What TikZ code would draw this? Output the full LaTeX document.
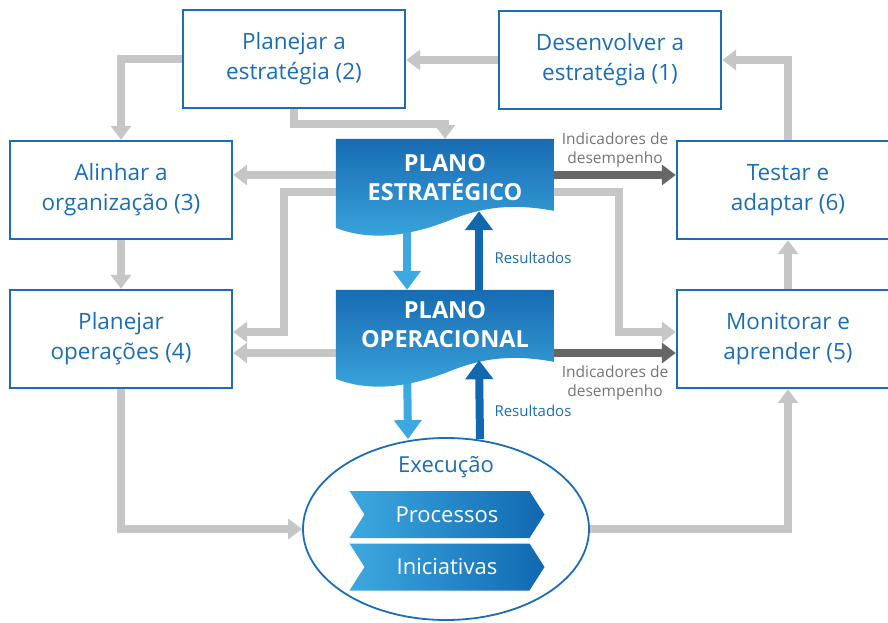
\documentclass[tikz,border=0pt]{standalone}
\usepackage{fontspec}
\setmainfont{Open Sans}
\usetikzlibrary{arrows.meta,shapes.geometric,shapes.symbols}

\definecolor{boxblue}{HTML}{1B6EB5}
\definecolor{lightgray}{HTML}{C6C6C6}
\definecolor{darkgray}{HTML}{666666}
\definecolor{ltblue}{HTML}{3CA9E0}
\definecolor{dkblue}{HTML}{1168B0}
\definecolor{planotop}{HTML}{176BB2}
\definecolor{planobot}{HTML}{3BA6DD}

% wavy plan shape drawn behind a plano node
\newcommand{\planoshape}[1]{%
  \shade[top color=planotop,bottom color=planobot,shift={(#1.north west)}]
    (0,0) -- (218,0) -- (218,72) .. controls (175,64) and (145,69) .. (115,81)
    .. controls (75,97) and (35,103) .. (0,89) -- cycle;}

\begin{document}
\begin{tikzpicture}[x=1pt,y=-1pt,
    box/.style={draw=boxblue,line width=2.4pt,text=boxblue,minimum width=222pt,minimum height=98pt,
      align=center,font=\fontsize{22.5}{30}\selectfont},
    plano/.style={minimum width=218pt,minimum height=72pt,inner sep=0pt,align=center,text=white,
      font=\bfseries\fontsize{23.5}{29}\selectfont},
    chev/.style={shape=signal,signal to=east,signal from=west,signal pointer angle=115,
      minimum width=195pt,minimum height=47pt,inner sep=0pt,left color=ltblue,right color=dkblue,
      text=white,font=\fontsize{22}{24}\selectfont},
    grayarrow/.style={draw=lightgray,line width=8pt,-{Triangle[width=20pt,length=14pt]}},
    darkarrow/.style={draw=darkgray,line width=8pt,-{Triangle[width=20pt,length=14pt]}},
    ltarrow/.style={draw=ltblue,line width=8pt,-{Triangle[width=27pt,length=19pt]}},
    dkarrow/.style={draw=dkblue,line width=8pt,-{Triangle[width=27pt,length=19pt]}},
    indic/.style={text=darkgray!90,align=center,font=\fontsize{15.5}{19}\selectfont},
    result/.style={text=boxblue,font=\fontsize{15}{18}\selectfont}]

\clip (0,0) rectangle (888,623);

\node[box] (p2) at (294,59) {Planejar a\\estratégia (2)};
\node[box] (d1) at (610,60) {Desenvolver a\\estratégia (1)};
\node[box] (a3) at (121,190) {Alinhar a\\organização (3)};
\node[box] (t6) at (788,190) {Testar e\\adaptar (6)};
\node[box] (o4) at (121,339) {Planejar\\operações (4)};
\node[box] (m5) at (788,339) {Monitorar e\\aprender (5)};

\node[draw=boxblue,line width=1.8pt,ellipse,minimum width=286pt,minimum height=182pt] (ex) at (446,529) {};
\node[text=boxblue,font=\fontsize{22}{24}\selectfont] (exe) at (446,467) {Execução};
\node[chev] (pr) at (447,514.5) {Processos};
\node[chev] (in) at (447,567) {Iniciativas};

\node[plano] (pe) at (445,175) {};
\node[plano,minimum height=70pt] (po) at (445,325) {};

\coordinate (pel) at ([yshift=-17pt]pe.west);
\coordinate (per) at ([yshift=-17pt]pe.east);
\coordinate (pol) at ([yshift=-28pt]po.west);
\coordinate (por) at ([yshift=-28pt]po.east);

\draw[grayarrow] (d1.west) -- (d1.west -| p2.east);
\draw[grayarrow] (t6.north) |- (d1.east);
\draw[grayarrow] (p2.west) -| (a3.north);
\draw[grayarrow] (p2.south) -- ++(0,15) -| (pe.north);
\draw[grayarrow] (pe.west) -- (pe.west -| a3.east);
\draw[darkarrow] (pe.east) -- (pe.east -| t6.west);
\draw[grayarrow] (pel) -- ++(-52,0) |- ([yshift=7pt]o4.east);
\draw[grayarrow] (per) -- ++(65,0) |- ([yshift=7pt]m5.west);
\draw[grayarrow] (pol) -- (pol -| o4.east);
\draw[darkarrow] (por) -- (por -| m5.west);
\draw[grayarrow] (a3) -- (o4);
\draw[grayarrow] (m5) -- (t6);
\draw[grayarrow] (o4.south) |- (ex.west);
\draw[grayarrow] (ex.east) -| (m5.south);

\draw[ltarrow] ([xshift=-38pt]pe.south) -- ([xshift=-38pt]po.north);
\draw[ltarrow] ([xshift=-38pt]po.south) -- ([xshift=-38pt,yshift=-2pt]ex.north);

\planoshape{pe}
\planoshape{po}
\node[plano] at ([yshift=-3pt]pe) {PLANO\\ESTRATÉGICO};
\node[plano] at (po) {PLANO\\OPERACIONAL};

\draw[dkarrow] ([xshift=34pt]po.north) -- ([xshift=34pt]pe.south);
\draw[dkarrow] ([xshift=34pt,yshift=-2pt]ex.north) -- ([xshift=34pt]po.south);

\node[indic] (ind1) at (615,150) {Indicadores de\\desempenho};
\node[indic] (ind2) at (615,383) {Indicadores de\\desempenho};
\node[result] (res1) at (533,258) {Resultados};
\node[result] (res2) at (533,411) {Resultados};

\end{tikzpicture}
\end{document}
